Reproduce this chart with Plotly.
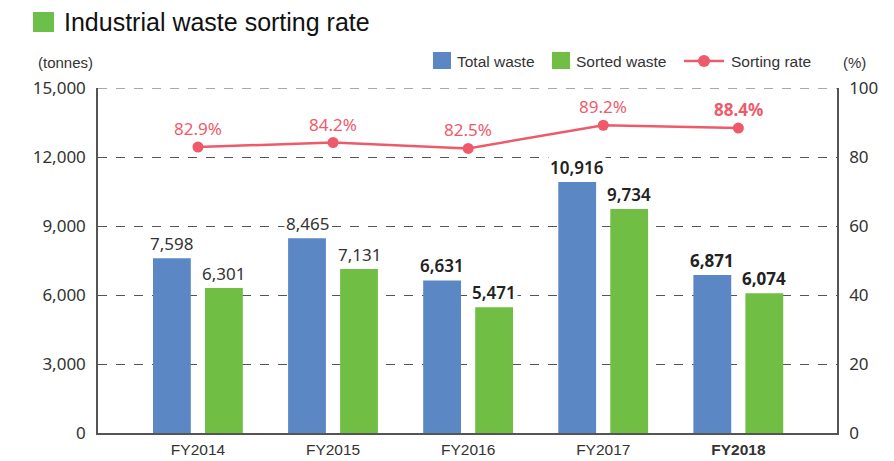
import numpy as np
import plotly.graph_objects as go

# ---- data ----
years = ["FY2014", "FY2015", "FY2016", "FY2017", "FY2018"]
total_waste = [7598, 8465, 6631, 10916, 6871]
sorted_waste = [6301, 7131, 5471, 9734, 6074]
sorting_rate = [82.9, 84.2, 82.5, 89.2, 88.4]
label_weights = [400, 400, 600, 600, 700]
left_ticks = [0, 3000, 6000, 9000, 12000, 15000]
right_ticks = [0, 20, 40, 60, 80, 100]

BLUE = "#5b87c5"
GREEN = "#70be44"
PINK = "#ef5a6a"
GRID = "#555555"
TEXT = "#333333"
NUM_FONT = "Noto Sans"
SANS = "Liberation Sans"

pos = np.arange(len(years))
bar_w = 0.28
blue_x = pos - 0.193
green_x = pos + 0.192

fig = go.Figure()
fig.add_trace(go.Bar(x=blue_x, y=total_waste, width=bar_w, marker_color=BLUE,
                     marker_line_width=0, name="Total waste", showlegend=False))
fig.add_trace(go.Bar(x=green_x, y=sorted_waste, width=bar_w, marker_color=GREEN,
                     marker_line_width=0, name="Sorted waste", showlegend=False))
fig.add_trace(go.Scatter(x=pos, y=sorting_rate, yaxis="y2", mode="lines+markers",
                         line=dict(color=PINK, width=2.5),
                         marker=dict(color=PINK, size=11),
                         name="Sorting rate", showlegend=False))

ann = []
# value labels above bars
for xs, vals in ((blue_x, total_waste), (green_x, sorted_waste)):
    for x, v, w in zip(xs, vals, label_weights):
        ann.append(dict(x=x, y=v, xref="x", yref="y", text=f"{v:,}",
                        showarrow=False, yanchor="bottom", yshift=1,
                        bgcolor="white", borderpad=1,
                        font=dict(family=NUM_FONT, size=17, color="#222222" if w > 400 else TEXT,
                                  weight=w)))
# rate labels
for x, r, w in zip(pos, sorting_rate, label_weights):
    ann.append(dict(x=x, y=r, xref="x", yref="y2", text=f"{r:.1f}%",
                    showarrow=False, yanchor="bottom", yshift=5,
                    font=dict(family=NUM_FONT, size=17, color=PINK,
                              weight=700 if w == 700 else 400)))

# title and unit captions
ann.append(dict(x=62, y=22, xref="paper", yref="paper", text="Industrial waste sorting rate",
                showarrow=False, xanchor="left", yanchor="middle",
                font=dict(family=SANS, size=25, color="#111111")))
ann.append(dict(x=36, y=62, text="(tonnes)", showarrow=False, xanchor="left", yanchor="middle",
                font=dict(family=SANS, size=15, color=TEXT)))
ann.append(dict(x=841, y=62, text="(%)", showarrow=False, xanchor="left", yanchor="middle",
                font=dict(family=SANS, size=15, color=TEXT)))

# legend entries
legend_items = [("Total waste", 433, "bar", BLUE), ("Sorted waste", 552, "bar", GREEN),
                ("Sorting rate", 684, "line", PINK)]
shapes = []
for name, lx, kind, col in legend_items:
    if kind == "bar":
        shapes.append(dict(type="rect", xref="paper", yref="paper", x0=lx, x1=lx + 18,
                           y0=52, y1=69, fillcolor=col, line_width=0))
        tx = lx + 22
    else:
        shapes.append(dict(type="line", xref="paper", yref="paper", x0=lx, x1=lx + 40,
                           y0=61, y1=61, line=dict(color=col, width=2.5)))
        shapes.append(dict(type="circle", xref="paper", yref="paper", x0=lx + 14, x1=lx + 26,
                           y0=55, y1=67, fillcolor=col, line_width=0))
        tx = lx + 45
    ann.append(dict(x=tx, y=61, text=name, showarrow=False, xanchor="left", yanchor="middle",
                    font=dict(family=SANS, size=15.5, color=TEXT)))

# annotations/shapes above are in pixel units; convert to paper coords
W, H = 894, 461
ML, MR, MT, MB = 98, 57, 88, 28
pw, ph = W - ML - MR, H - MT - MB
for a in ann:
    if a.get("xref") in (None, "paper") and a.get("yref") in (None, "paper"):
        a["xref"], a["yref"] = "paper", "paper"
        a["x"] = (a["x"] - ML) / pw
        a["y"] = 1 - (a["y"] - MT) / ph
for s in shapes:
    s["x0"] = (s["x0"] - ML) / pw
    s["x1"] = (s["x1"] - ML) / pw
    y0, y1 = s["y0"], s["y1"]
    s["y0"] = 1 - (y1 - MT) / ph
    s["y1"] = 1 - (y0 - MT) / ph

# title square
shapes.append(dict(type="rect", xref="paper", yref="paper",
                   x0=(33 - ML) / pw, x1=(54 - ML) / pw,
                   y0=1 - (32 - MT) / ph, y1=1 - (12 - MT) / ph,
                   fillcolor="#6cc04a", line_width=0))
# dashed gridline along the top of the tonnage scale
shapes.append(dict(type="line", xref="paper", yref="y", x0=0, x1=1,
                   y0=left_ticks[-1], y1=left_ticks[-1], layer="below",
                   line=dict(color=GRID, width=1, dash="dash")))

ticktext = [f"<b>{y}</b>" if w == 700 else y for y, w in zip(years, label_weights)]

fig.update_layout(
    width=W, height=H,
    margin=dict(l=ML, r=MR, t=MT, b=MB, pad=0),
    paper_bgcolor="white", plot_bgcolor="white",
    barmode="overlay",
    annotations=ann, shapes=shapes,
    xaxis=dict(range=[-0.74, 4.73], tickvals=list(pos), ticktext=ticktext,
               showgrid=False, zeroline=False, showline=True, linecolor=GRID, linewidth=1.5,
               ticks="", ticklabelstandoff=2, automargin=False,
               tickfont=dict(family=SANS, size=15.5, color=TEXT)),
    yaxis=dict(range=[0, 15000], tickvals=left_ticks,
               ticktext=[f"{t:,}" for t in left_ticks],
               showgrid=True, gridcolor=GRID, griddash="dash", gridwidth=1,
               zeroline=False, showline=True, linecolor=GRID, linewidth=1.5,
               ticks="", ticklabelstandoff=7, automargin=False,
               tickfont=dict(family=NUM_FONT, size=17, color=TEXT)),
    yaxis2=dict(range=[0, 100], tickvals=right_ticks, overlaying="y", side="right",
                showgrid=False, zeroline=False, showline=True, linecolor=GRID, linewidth=1.5,
                ticks="", ticklabelstandoff=7, automargin=False,
                tickfont=dict(family=NUM_FONT, size=17, color=TEXT)),
)

fig.write_html("out.html")
